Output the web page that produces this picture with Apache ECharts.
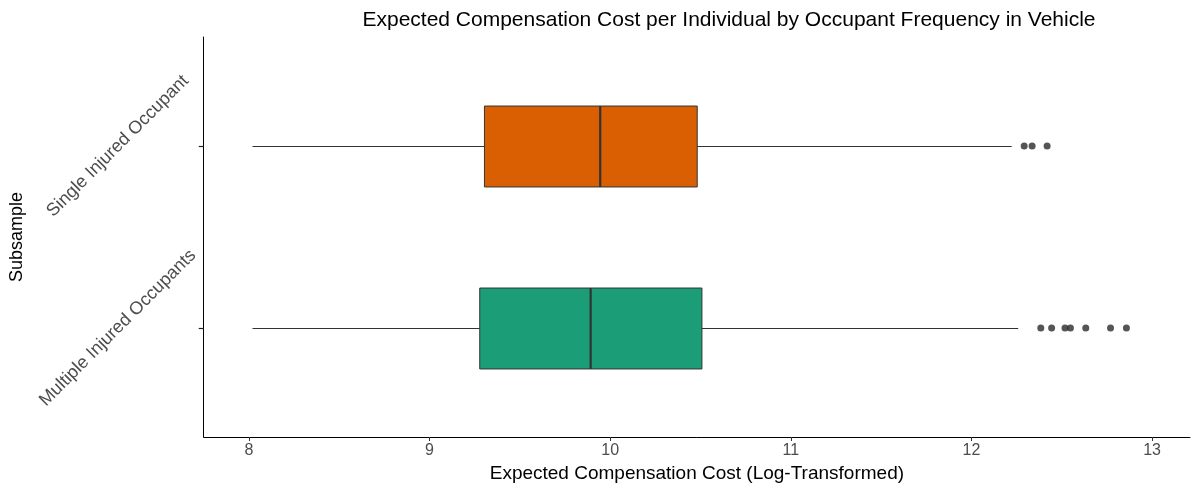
<!DOCTYPE html>
<html>
<head>
<meta charset="utf-8">
<script src="https://cdn.jsdelivr.net/npm/echarts@6/dist/echarts.min.js"></script>
<style>
  html, body { margin: 0; padding: 0; background: #fff; }
  #chart { width: 1192px; height: 488px; }
</style>
</head>
<body>
<div id="chart"></div>
<script>
// Box-plot summary per subsample (log-transformed compensation cost)
const subsamples = ['Single Injured Occupant', 'Multiple Injured Occupants'];
const whiskerLow = [8.02, 8.02];
const q1 = [9.304, 9.278];
const median = [9.945, 9.892];
const q3 = [10.482, 10.508];
const whiskerHigh = [12.223, 12.259];
const outliersSingle = [12.292, 12.336, 12.419];
const outliersMultiple = [12.384, 12.444, 12.518, 12.548, 12.633, 12.770, 12.858];
const xTicks = [8, 9, 10, 11, 12, 13];

const FONT = '"Liberation Sans", Arial, sans-serif';
const fills = ['#D95F02', '#1B9E77'];

// y positions 1, 2 stand for the two subsamples (top to bottom)
const boxData = subsamples.map((name, i) =>
  [i + 1, whiskerLow[i], q1[i], median[i], q3[i], whiskerHigh[i]]);
const outlierData = []
  .concat(outliersSingle.map(v => [v, 1]))
  .concat(outliersMultiple.map(v => [v, 2]));

const chart = echarts.init(document.getElementById('chart'));

chart.setOption({
  animation: false,
  backgroundColor: '#fff',
  title: {
    text: 'Expected Compensation Cost per Individual by Occupant Frequency in Vehicle',
    left: 724,
    textAlign: 'center',
    top: 5,
    textStyle: { fontFamily: FONT, fontSize: 21, fontWeight: 'normal', color: '#000' }
  },
  grid: { left: 203, right: 2, top: 37, bottom: 51, containLabel: false },
  xAxis: {
    type: 'value',
    min: 7.75,
    max: 13.21,
    name: 'Expected Compensation Cost (Log-Transformed)',
    nameLocation: 'middle',
    nameGap: 25,
    nameTextStyle: { fontFamily: FONT, fontSize: 19, color: '#000' },
    axisLine: { show: true, onZero: false, lineStyle: { color: '#000', width: 1 } },
    axisTick: { show: true, length: 4, customValues: xTicks, lineStyle: { color: '#333' } },
    axisLabel: { customValues: xTicks, margin: 6, fontFamily: FONT, fontSize: 16, color: '#4d4d4d' },
    splitLine: { show: false }
  },
  yAxis: {
    type: 'value',
    inverse: true,
    min: 0.4,
    max: 2.6,
    name: 'Subsample',
    nameLocation: 'middle',
    nameGap: 168,
    nameRotate: 90,
    nameTextStyle: { fontFamily: FONT, fontSize: 18, color: '#000' },
    axisLine: { show: true, onZero: false, lineStyle: { color: '#000', width: 1 } },
    axisTick: { show: true, length: 5, customValues: [1, 2], lineStyle: { color: '#222', width: 1.2 } },
    axisLabel: {
      customValues: [1, 2],
      formatter: v => subsamples[Math.round(v) - 1] || '',
      rotate: 45,
      align: 'center',
      verticalAlign: 'middle',
      margin: 86,
      fontFamily: FONT,
      fontSize: 18,
      color: '#4d4d4d'
    },
    splitLine: { show: false }
  },
  series: [
    {
      type: 'custom',
      data: boxData,
      encode: { x: [1, 2, 3, 4, 5], y: 0 },
      renderItem: function (params, api) {
        const y = api.value(0);
        const pLow = api.coord([api.value(1), y]);
        const pQ1 = api.coord([api.value(2), y]);
        const pMed = api.coord([api.value(3), y]);
        const pQ3 = api.coord([api.value(4), y]);
        const pHigh = api.coord([api.value(5), y]);
        const half = api.size([0, 0.445])[1] / 2;
        const cy = Math.round(pQ1[1]) + 0.5;
        const stroke = '#333';
        return {
          type: 'group',
          children: [
            { type: 'line', shape: { x1: pLow[0], y1: cy, x2: pQ1[0], y2: cy },
              style: { stroke: stroke, lineWidth: 1 } },
            { type: 'line', shape: { x1: pQ3[0], y1: cy, x2: pHigh[0], y2: cy },
              style: { stroke: stroke, lineWidth: 1 } },
            { type: 'rect',
              shape: { x: pQ1[0], y: cy - half, width: pQ3[0] - pQ1[0], height: 2 * half },
              style: { fill: fills[params.dataIndex], stroke: stroke, lineWidth: 1 } },
            { type: 'line', shape: { x1: pMed[0], y1: cy - half, x2: pMed[0], y2: cy + half },
              style: { stroke: stroke, lineWidth: 2.2 } }
          ]
        };
      }
    },
    {
      type: 'scatter',
      data: outlierData,
      symbol: 'circle',
      symbolSize: 7,
      itemStyle: { color: '#2b2b2b' }
    }
  ]
});
</script>
</body>
</html>
